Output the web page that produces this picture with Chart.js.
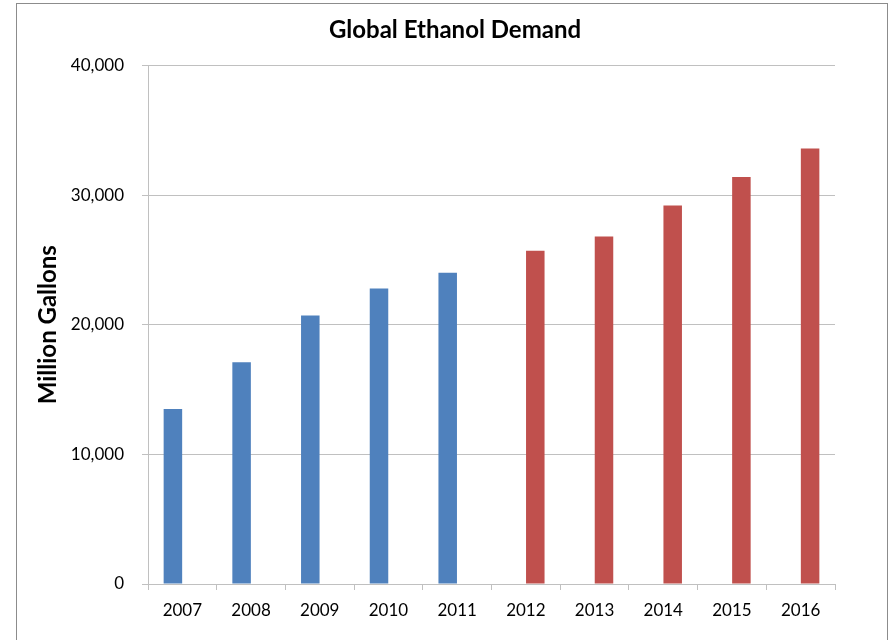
<!DOCTYPE html>
<html>
<head>
<meta charset="utf-8">
<script src="https://cdn.jsdelivr.net/npm/chart.js@4/dist/chart.umd.min.js"></script>
<style>
  html, body { margin: 0; padding: 0; background: #fff; overflow: hidden; }
  #wrap { position: relative; width: 894px; height: 640px; }
  #frame { position: absolute; left: 16px; top: 3px; width: 870px; height: 700px; border: 1px solid #8c8c8c; }
  canvas { position: absolute; left: 0; top: 0; }
</style>
</head>
<body>
<div id="wrap">
  <div id="frame"></div>
  <canvas id="chart"></canvas>
</div>
<script>
const years = ["2007", "2008", "2009", "2010", "2011", "2012", "2013", "2014", "2015", "2016"];
const actual = [13500, 17100, 20700, 22800, 24000, null, null, null, null, null];
const forecast = [null, null, null, null, null, 25700, 26800, 29200, 31400, 33600];

const tickFont = { family: "Lato", size: 17 };
const gridGrey = "#c0c0c0";

// centre the title on the frame, not on the padded box
const centerTitle = {
  id: "centerTitle",
  afterLayout(chart) {
    if (chart.titleBlock) {
      chart.titleBlock.left = 16;
      chart.titleBlock.right = 894;
    }
  },
};

new Chart(document.getElementById("chart"), {
  type: "bar",
  data: {
    labels: years,
    datasets: [
      { label: "Actual", data: actual, backgroundColor: "#4f81bd", categoryPercentage: 0.55, barPercentage: 0.98 },
      { label: "Forecast", data: forecast, backgroundColor: "#c0504d", categoryPercentage: 0.55, barPercentage: 0.98 },
    ],
  },
  options: {
    responsive: true,
    maintainAspectRatio: false,
    animation: false,
    layout: { padding: { left: 36, right: 59, top: 0, bottom: 0 } },
    plugins: {
      legend: { display: false },
      tooltip: { enabled: false },
      title: {
        display: true,
        text: "Global Ethanol Demand",
        color: "#000",
        font: { family: "Lato", size: 24, weight: "bold", lineHeight: 1.1 },
        padding: { top: 17, bottom: 22 },
      },
    },
    scales: {
      x: {
        grid: { drawOnChartArea: false, drawTicks: true, tickLength: 6, color: gridGrey },
        border: { color: gridGrey },
        ticks: { color: "#000", font: tickFont, padding: 10, maxRotation: 0 },
        afterFit: (scale) => { scale.height = 56; },
      },
      y: {
        min: 0,
        max: 40000,
        grid: { color: gridGrey, tickLength: 6 },
        border: { color: gridGrey },
        ticks: {
          stepSize: 10000,
          color: "#000",
          font: tickFont,
          padding: 18,
          callback: (v) => v.toLocaleString("en-US"),
        },
        title: {
          display: true,
          text: "Million Gallons",
          color: "#000",
          font: { family: "Lato", size: 24, weight: "bold", lineHeight: 1.2 },
          padding: { top: -2, bottom: 0 },
        },
        afterFit: (scale) => { scale.width = 112; },
      },
    },
  },
  plugins: [centerTitle],
});
</script>
</body>
</html>
